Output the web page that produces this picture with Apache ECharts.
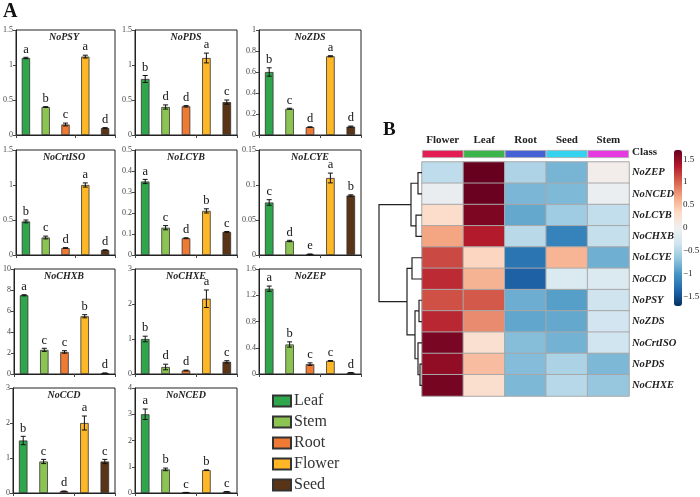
<!DOCTYPE html>
<html><head><meta charset="utf-8">
<script src="https://cdn.jsdelivr.net/npm/echarts@6/dist/echarts.min.js"></script>
<style>html,body{margin:0;padding:0;background:#fff}#c{width:700px;height:497px}</style>
</head><body><div id="c"></div>
<script>
// ---------- Panel A data ----------
const tissues = ['Leaf', 'Stem', 'Root', 'Flower', 'Seed'];
const tissueColors = ['#2fa54c', '#8cc453', '#ee7a33', '#fdb727', '#5a3416'];
const barGenes = ['NoPSY', 'NoPDS', 'NoZDS', 'NoCrtISO', 'NoLCYB', 'NoLCYE', 'NoCHXB', 'NoCHXE', 'NoZEP', 'NoCCD', 'NoNCED'];

const psyMean = [1.10, 0.40, 0.15, 1.12, 0.10];     const psyErr = [0.01, 0.005, 0.02, 0.02, 0.005];   const psyLet = ['a', 'b', 'c', 'a', 'd'];
const pdsMean = [0.80, 0.40, 0.41, 1.10, 0.47];     const pdsErr = [0.05, 0.03, 0.01, 0.07, 0.03];     const pdsLet = ['b', 'd', 'd', 'a', 'c'];
const zdsMean = [0.60, 0.25, 0.075, 0.75, 0.08];    const zdsErr = [0.04, 0.005, 0.003, 0.005, 0.005]; const zdsLet = ['b', 'c', 'd', 'a', 'd'];
const crtMean = [0.48, 0.25, 0.10, 1.00, 0.07];     const crtErr = [0.02, 0.02, 0.005, 0.03, 0.003];   const crtLet = ['b', 'c', 'd', 'a', 'd'];
const lcybMean = [0.35, 0.13, 0.08, 0.21, 0.11];    const lcybErr = [0.01, 0.01, 0.002, 0.01, 0.002];  const lcybLet = ['a', 'c', 'd', 'b', 'c'];
const lcyeMean = [0.075, 0.02, 0.001, 0.11, 0.085]; const lcyeErr = [0.004, 0.001, 0.0005, 0.007, 0.001]; const lcyeLet = ['c', 'd', 'e', 'a', 'b'];
const chxbMean = [7.5, 2.3, 2.1, 5.5, 0.08];        const chxbErr = [0.05, 0.15, 0.12, 0.15, 0.01];    const chxbLet = ['a', 'c', 'c', 'b', 'd'];
const chxeMean = [1.0, 0.2, 0.1, 2.15, 0.35];       const chxeErr = [0.08, 0.08, 0.01, 0.25, 0.03];    const chxeLet = ['b', 'd', 'd', 'a', 'c'];
const zepMean = [1.30, 0.45, 0.15, 0.20, 0.02];     const zepErr = [0.04, 0.04, 0.02, 0.005, 0.003];   const zepLet = ['a', 'b', 'c', 'c', 'd'];
const ccdMean = [1.5, 0.9, 0.05, 2.0, 0.9];         const ccdErr = [0.12, 0.06, 0.005, 0.2, 0.06];     const ccdLet = ['b', 'c', 'd', 'a', 'c'];
const ncedMean = [3.0, 0.9, 0.02, 0.87, 0.05];      const ncedErr = [0.2, 0.05, 0.003, 0.01, 0.005];   const ncedLet = ['a', 'b', 'c', 'b', 'c'];

const yMax = [1.5, 1.5, 1, 1.5, 0.5, 0.15, 10, 3, 1.6, 3, 4];
const yStep = [0.5, 0.5, 0.2, 0.5, 0.1, 0.05, 2, 1, 0.4, 1, 1];

const barMeans = [psyMean, pdsMean, zdsMean, crtMean, lcybMean, lcyeMean, chxbMean, chxeMean, zepMean, ccdMean, ncedMean];
const barErrs = [psyErr, pdsErr, zdsErr, crtErr, lcybErr, lcyeErr, chxbErr, chxeErr, zepErr, ccdErr, ncedErr];
const barLetters = [psyLet, pdsLet, zdsLet, crtLet, lcybLet, lcyeLet, chxbLet, chxeLet, zepLet, ccdLet, ncedLet];

// ---------- Panel B data ----------
const heatCols = ['Flower', 'Leaf', 'Root', 'Seed', 'Stem'];
const classColors = ['#e51d55', '#3bb44b', '#4660d6', '#36d3f0', '#e639e2'];
const heatRows = ['NoZEP', 'NoNCED', 'NoLCYB', 'NoCHXB', 'NoLCYE', 'NoCCD', 'NoPSY', 'NoZDS', 'NoCrtISO', 'NoPDS', 'NoCHXE'];
const zZEP = [-0.44, 1.70, -0.53, -0.79, 0.05];
const zNCED = [-0.08, 1.68, -0.78, -0.76, -0.06];
const zLCYB = [0.31, 1.60, -0.88, -0.61, -0.42];
const zCHXB = [0.68, 1.35, -0.47, -1.15, -0.40];
const zLCYE = [1.13, 0.37, -1.25, 0.58, -0.83];
const zCCD = [1.27, 0.59, -1.39, -0.23, -0.23];
const zPSY = [1.09, 1.05, -0.84, -0.94, -0.35];
const zZDS = [1.29, 0.81, -0.89, -0.88, -0.33];
const zCRT = [1.62, 0.26, -0.73, -0.81, -0.34];
const zPDS = [1.51, 0.53, -0.74, -0.54, -0.77];
const zCHXE = [1.63, 0.28, -0.77, -0.48, -0.66];
const heatValues = [zZEP, zNCED, zLCYB, zCHXB, zLCYE, zCCD, zPSY, zZDS, zCRT, zPDS, zCHXE];
const colorbarTicks = [-1.5, -1, -0.5, 0, 0.5, 1, 1.5];
const colorMin = -1.7, colorMax = 1.7;
// dendrogram merges: [child A, child B, height]; leaves 0..10, merged nodes 11..
const dendroLinks = [
  [0, 1, 4], [2, 3, 6], [11, 12, 11], [4, 5, 10], [6, 7, 3],
  [9, 10, 2], [8, 16, 4], [15, 17, 7], [14, 18, 15], [13, 19, 43]
];

// ---------- build ----------
const SERIF = "'Liberation Serif','Times New Roman',serif";
const chart = echarts.init(document.getElementById('c'), null, { renderer: 'canvas' });

const colLeft = [13, 135, 259], rowTop = [30, 150, 269, 388], GW = 102, GH = 105;
const grid = [], xAxis = [], yAxis = [], series = [], title = [];

barGenes.forEach((g, i) => {
  const gl = colLeft[i % 3], gt = rowTop[Math.floor(i / 3)];
  grid.push({ left: gl, top: gt, width: GW, height: GH, show: true, borderColor: '#222', borderWidth: 1, backgroundColor: 'transparent' });
  xAxis.push({ type: 'category', gridIndex: i, data: tissues,
    axisLine: { lineStyle: { color: '#222', width: 1 } },
    axisTick: { show: true, length: 3, lineStyle: { color: '#444' } },
    axisLabel: { show: false } });
  yAxis.push({ type: 'value', gridIndex: i, min: 0, max: yMax[i], interval: yStep[i],
    splitLine: { show: false },
    axisLine: { show: true, lineStyle: { color: '#222', width: 1 } },
    axisTick: { show: true, length: 3, lineStyle: { color: '#444' } },
    axisLabel: { fontFamily: SERIF, fontSize: 8, color: '#444', margin: 3 } });
  title.push({ text: g, left: gl + GW / 2, top: gt + 2, textAlign: 'center', padding: 0,
    textStyle: { fontFamily: SERIF, fontStyle: 'italic', fontWeight: 'bold', fontSize: 10, color: '#222' } });
  series.push({ type: 'bar', xAxisIndex: i, yAxisIndex: i, barWidth: '42%',
    data: barMeans[i].map((v, k) => ({ value: v, itemStyle: { color: tissueColors[k], borderColor: '#333', borderWidth: 0.8 } })) });
  const errData = barMeans[i].map((v, k) => [k, v - barErrs[i][k], v + barErrs[i][k]]);
  const letters = barLetters[i];
  series.push({ type: 'custom', xAxisIndex: i, yAxisIndex: i, z: 5,
    encode: { x: 0, y: [1, 2] },
    data: errData,
    renderItem: function (params, api) {
      const x = api.value(0);
      const top = api.coord([x, api.value(2)]);
      const bot = api.coord([x, api.value(1)]);
      const c = 2.5;
      const st = { stroke: '#111', lineWidth: 1 };
      return { type: 'group', children: [
        { type: 'line', shape: { x1: top[0], y1: top[1], x2: bot[0], y2: bot[1] }, style: st },
        { type: 'line', shape: { x1: top[0] - c, y1: top[1], x2: top[0] + c, y2: top[1] }, style: st },
        { type: 'line', shape: { x1: bot[0] - c, y1: bot[1], x2: bot[0] + c, y2: bot[1] }, style: st },
        { type: 'text', style: { text: letters[params.dataIndex], x: top[0], y: top[1] - 1.5,
          textAlign: 'center', textVerticalAlign: 'bottom', font: '12.5px ' + SERIF, fill: '#111' } }
      ] };
    } });
});

// heatmap grid (11)
const HL = 422, HT = 162, HW = 207, HH = 234;
grid.push({ left: HL, top: HT, width: HW, height: HH });
xAxis.push({ type: 'category', gridIndex: 11, data: heatCols, axisLine: { show: false }, axisTick: { show: false }, axisLabel: { show: false }, splitLine: { show: false } });
yAxis.push({ type: 'category', gridIndex: 11, data: heatRows, inverse: true, position: 'right',
  axisLine: { show: false }, axisTick: { show: false }, splitLine: { show: false },
  axisLabel: { interval: 0, fontFamily: SERIF, fontStyle: 'italic', fontWeight: 'bold', fontSize: 10.5, color: '#222', margin: 3 } });
const heatData = [];
heatValues.forEach((row, r) => row.forEach((v, c) => heatData.push([c, r, v])));
series.push({ type: 'heatmap', xAxisIndex: 11, yAxisIndex: 11, data: heatData,
  itemStyle: { borderColor: '#a8a8a8', borderWidth: 1 } });

// class bar grid (12)
grid.push({ left: HL, top: 150, width: HW, height: 8 });
xAxis.push({ type: 'category', gridIndex: 12, data: heatCols, position: 'top',
  axisLine: { show: false }, axisTick: { show: false },
  axisLabel: { interval: 0, fontFamily: SERIF, fontWeight: 'bold', fontSize: 11, color: '#222', margin: 4 } });
yAxis.push({ type: 'value', gridIndex: 12, min: 0, max: 1, show: false });
series.push({ type: 'bar', xAxisIndex: 12, yAxisIndex: 12, barWidth: '100%',
  data: classColors.map(c => ({ value: 1, itemStyle: { color: c, borderColor: '#aaa', borderWidth: 0.8 } })) });

// colorbar label grid (13)
grid.push({ left: 674, top: 150, width: 8, height: 156 });
xAxis.push({ type: 'value', gridIndex: 13, show: false });
yAxis.push({ type: 'value', gridIndex: 13, min: colorMin, max: colorMax, position: 'right', offset: 3,
  axisLine: { show: false }, axisTick: { show: false }, splitLine: { show: false },
  axisLabel: { customValues: colorbarTicks, fontFamily: SERIF, fontSize: 9, color: '#222', margin: 4,
    formatter: v => (v < 0 ? '\u2212' + Math.abs(v) : String(v)) } });

// dendrogram grid (14)
grid.push({ left: 379, top: HT, width: HL - 379, height: HH });
xAxis.push({ type: 'value', gridIndex: 14, min: 0, max: 43, inverse: true, show: false });
yAxis.push({ type: 'value', gridIndex: 14, min: 0, max: heatRows.length, inverse: true, show: false });
const nodeY = heatRows.map((_, i) => i + 0.5), nodeH = heatRows.map(() => 0);
const dendroData = dendroLinks.map(([a, b, h]) => {
  const row = [nodeH[a], nodeY[a], h, nodeY[b], nodeH[b]];
  nodeY.push((nodeY[a] + nodeY[b]) / 2); nodeH.push(h);
  return row;
});
series.push({ type: 'custom', xAxisIndex: 14, yAxisIndex: 14, data: dendroData,
  encode: { x: [0, 2, 4], y: [1, 3] },
  renderItem: function (params, api) {
    const p1 = api.coord([api.value(0), api.value(1)]);
    const p2 = api.coord([api.value(2), api.value(1)]);
    const p3 = api.coord([api.value(2), api.value(3)]);
    const p4 = api.coord([api.value(4), api.value(3)]);
    return { type: 'polyline', shape: { points: [p1, p2, p3, p4] }, style: { stroke: '#222', lineWidth: 1.2, fill: null } };
  } });

// legend dummy grid (15)
grid.push({ left: 0, top: 0, width: 1, height: 1, show: false });
xAxis.push({ type: 'category', gridIndex: 15, show: false, data: [] });
yAxis.push({ type: 'value', gridIndex: 15, show: false });
tissues.forEach((t, k) => series.push({ type: 'bar', name: t, xAxisIndex: 15, yAxisIndex: 15, data: [],
  itemStyle: { color: tissueColors[k], borderColor: '#333', borderWidth: 0.8 } }));

chart.setOption({
  animation: false,
  backgroundColor: '#fff',
  title: title,
  grid: grid, xAxis: xAxis, yAxis: yAxis, series: series,
  legend: { data: tissues, orient: 'vertical', left: 272, top: 393, padding: 0, itemWidth: 18, itemHeight: 11, itemGap: 5,
    icon: 'rect', textStyle: { fontFamily: SERIF, fontSize: 16, color: '#333', padding: [0, 0, 0, -2] }, selectedMode: false },
  visualMap: { type: 'continuous', seriesIndex: 22, min: colorMin, max: colorMax, calculable: false, left: 674, top: 150,
    itemWidth: 8, itemHeight: 156, padding: 0, text: null, showLabel: false,
    inRange: { color: ['#053061', '#2166ac', '#4393c3', '#92c5de', '#d1e5f0', '#f0f0f0', '#fddbc7', '#f4a582', '#d6604d', '#b2182b', '#67001f'] } },
  graphic: [
    { type: 'text', left: 3, top: 2, style: { text: 'A', font: 'bold 20px ' + SERIF, fill: '#111' } },
    { type: 'text', left: 383, top: 121, style: { text: 'B', font: 'bold 19px ' + SERIF, fill: '#111' } },
    { type: 'text', left: HL + HW + 3, top: 147, style: { text: 'Class', font: 'bold 11px ' + SERIF, fill: '#222' } }
  ]
});
</script></body></html>
